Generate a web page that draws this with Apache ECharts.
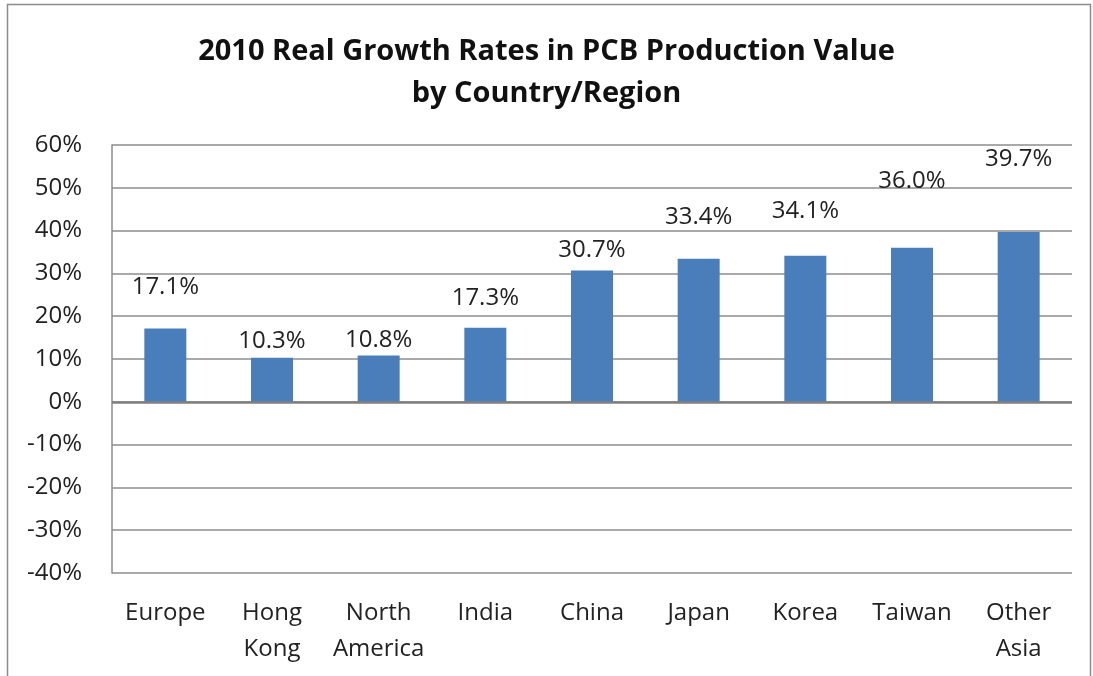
<!DOCTYPE html>
<html>
<head>
<meta charset="utf-8">
<script src="https://cdn.jsdelivr.net/npm/echarts@6/dist/echarts.min.js"></script>
<style>
  html, body { margin: 0; padding: 0; background: #fff; }
  #chart { width: 1093px; height: 676px; }
</style>
</head>
<body>
<div id="chart"></div>
<script>
// categories and growth rates (%)
var regions = ['Europe', 'Hong\nKong', 'North\nAmerica', 'India', 'China', 'Japan', 'Korea', 'Taiwan', 'Other\nAsia'];
var growth = [17.1, 10.3, 10.8, 17.3, 30.7, 33.4, 34.1, 36.0, 39.7];
var yTicks = { min: -40, max: 60, step: 10 };

// how far each value label sits above its bar (px), like the hand-placed labels
var labelGap = [29, 5, 3, 18, 8, 30, 33, 55, 61];

var chart = echarts.init(document.getElementById('chart'));

var barData = growth.map(function (v, i) {
    return { value: v, label: { distance: labelGap[i] } };
});

var option = {
    animation: false,
    textStyle: { fontFamily: 'Open Sans' },
    title: {
        text: '2010 Real Growth Rates in PCB Production Value\nby Country/Region',
        left: 'center',
        top: 26,
        textStyle: {
            fontFamily: 'Open Sans',
            fontSize: 29,
            fontWeight: 'bold',
            color: '#111',
            lineHeight: 42
        }
    },
    graphic: [{
        type: 'rect',
        shape: { x: 7.5, y: 4.5, width: 1083, height: 700 },
        style: { fill: null, stroke: '#8c8c8c', lineWidth: 1.5 },
        silent: true
    }],
    grid: { left: 112, right: 21, top: 145, bottom: 103 },
    xAxis: {
        type: 'category',
        data: regions,
        axisLine: { onZero: false, show: false },
        axisTick: { show: false },
        axisLabel: {
            fontSize: 24,
            color: '#222',
            margin: 22,
            lineHeight: 36,
            interval: 0
        }
    },
    yAxis: {
        type: 'value',
        min: yTicks.min,
        max: yTicks.max,
        interval: yTicks.step,
        axisLine: { show: true, lineStyle: { color: '#8c8c8c', width: 1.5 } },
        axisTick: { show: false },
        splitLine: { lineStyle: { color: '#8c8c8c', width: 1.5 } },
        axisLabel: {
            fontSize: 24,
            color: '#222',
            margin: 30,
            formatter: '{value}%'
        }
    },
    series: [{
        name: 'Growth',
        type: 'bar',
        barWidth: 42,
        itemStyle: { color: '#4a7ebb' },
        label: {
            show: true,
            position: 'top',
            fontSize: 24,
            color: '#222',
            formatter: function (p) { return p.value.toFixed(1) + '%'; }
        },
        markLine: {
            silent: true,
            symbol: 'none',
            label: { show: false },
            lineStyle: { color: '#7f7f7f', width: 2.5, type: 'solid' },
            data: [{ yAxis: 0 }]
        },
        data: barData
    }]
};
chart.setOption(option);
</script>
</body>
</html>
